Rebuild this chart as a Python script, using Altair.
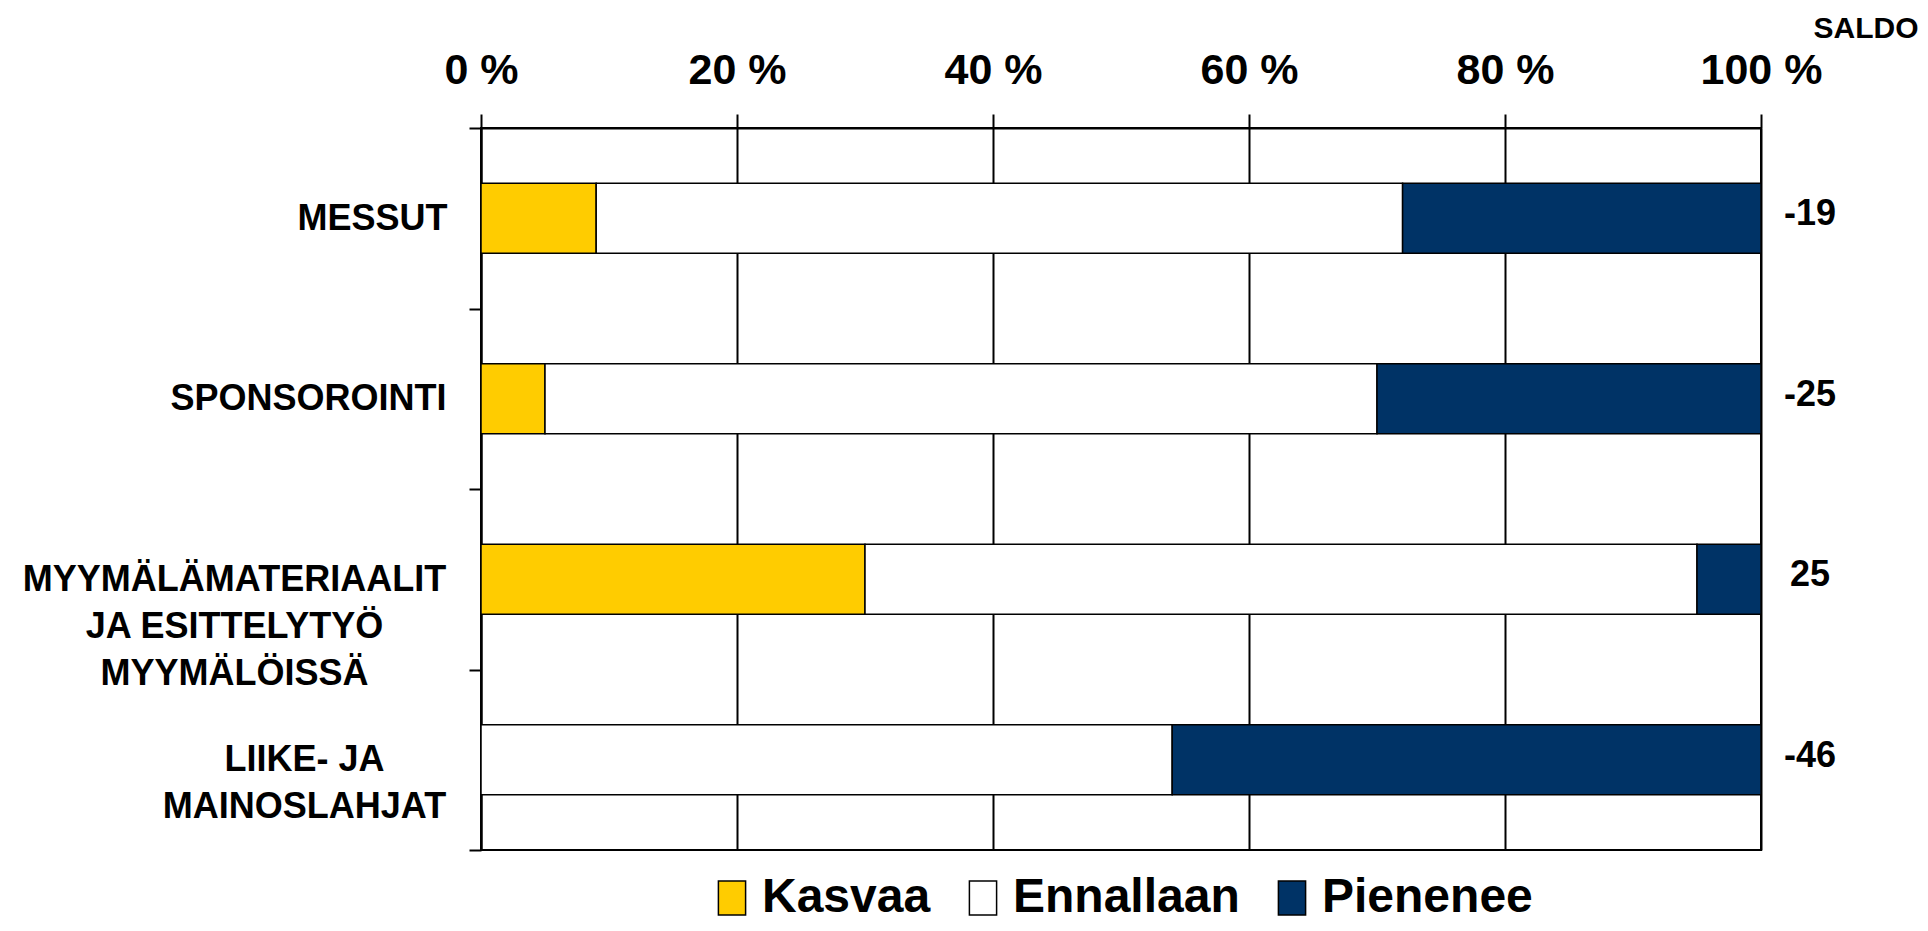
import altair as alt
import pandas as pd

# ---- data ----
categories = [
    "MESSUT",
    "SPONSOROINTI",
    "MYYMÄLÄMATERIAALIT|JA ESITTELYTYÖ|MYYMÄLÖISSÄ",
    "LIIKE- JA|MAINOSLAHJAT",
]
kasvaa = [9, 5, 30, 0]
ennallaan = [63, 65, 65, 54]
pienenee = [28, 30, 5, 46]
saldo = ["-19", "-25", "25", "-46"]
series = ["Kasvaa", "Ennallaan", "Pienenee"]
colors = ["#FFCC00", "#FFFFFF", "#003366"]
x_ticks = [0, 20, 40, 60, 80, 100]

# style: per-label distance so multi-line labels are centred but block right-aligned
label_pad = [97, 161, 235, 165]

FONT = "Liberation Sans"

rows = []
for i, c in enumerate(categories):
    for j, (s, v) in enumerate(zip(series, [kasvaa[i], ennallaan[i], pienenee[i]])):
        rows.append({"cat": c, "series": s, "value": v, "k": j})
df = pd.DataFrame(rows)

saldo_df = pd.DataFrame({"cat": categories, "saldo": saldo})
head_df = pd.DataFrame({"t": ["SALDO"]})

pad_cond = {
    "condition": [
        {"test": f"datum.value === '{c}'", "value": p}
        for c, p in zip(categories, label_pad)
    ],
    "value": 150,
}

y_enc = alt.Y(
    "cat:N",
    sort=categories,
    scale=alt.Scale(paddingInner=0, paddingOuter=0),
    axis=alt.Axis(
        title=None,
        tickBand="extent",
        tickSize=12,
        tickColor="black",
        tickWidth=2,
        domainColor="black",
        domainWidth=2,
        labelFont=FONT,
        labelFontWeight="bold",
        labelFontSize=36,
        labelColor="black",
        labelAlign="center",
        labelBaseline="middle",
        labelLineHeight=47,
        labelPadding=pad_cond,
        labelExpr="split(datum.label, '|')",
        labelLimit=0,
        labelOverlap=False,
        grid=False,
    ),
)

bars = alt.Chart(df).mark_bar(size=70, stroke="black", strokeWidth=1.5).encode(
    x=alt.X(
        "value:Q",
        stack="zero",
        scale=alt.Scale(domain=[0, 100], nice=False),
        axis=alt.Axis(
            orient="top",
            title=None,
            values=x_ticks,
            labelExpr="datum.value + ' %'",
            labelFont=FONT,
            labelFontWeight="bold",
            labelFontSize=43,
            labelColor="black",
            labelPadding=22,
            labelFlush=False,
            labelOverlap=False,
            tickSize=14,
            tickColor="black",
            tickWidth=2,
            domainColor="black",
            domainWidth=2,
            grid=True,
            gridColor="black",
            gridWidth=2,
            gridOpacity=1,
        ),
    ),
    y=y_enc,
    color=alt.Color(
        "series:N",
        scale=alt.Scale(domain=series, range=colors),
        legend=alt.Legend(
            title=None,
            orient="none",
            legendX=227,
            legendY=746,
            direction="horizontal",
            symbolType="M-0.8,-1L0.8,-1L0.8,1L-0.8,1Z",
            symbolSize=1156,
            symbolStrokeColor="black",
            symbolStrokeWidth=1.5,
            symbolOpacity=1,
            labelFont=FONT,
            labelFontSize=48,
            labelFontWeight="bold",
            labelColor="black",
            labelOffset=6,
            labelLimit=0,
            columnPadding=28,
            padding=0,
        ),
    ),
    order=alt.Order("k:Q"),
)

saldo_text = alt.Chart(saldo_df).mark_text(
    font=FONT, fontSize=36, fontWeight="bold", color="black",
    align="center", baseline="middle", dy=-4,
).encode(
    y=alt.Y("cat:N", sort=categories),
    x=alt.value(1329),
    text="saldo:N",
)

header = alt.Chart(head_df).mark_text(
    font=FONT, fontSize=30, fontWeight="bold", color="black",
    align="center", baseline="middle",
).encode(
    x=alt.value(1385),
    y=alt.value(-99),
    text="t:N",
)

chart = alt.layer(bars, saldo_text, header).properties(
    width=1280,
    height=722,
    padding={"left": 473, "top": 120, "right": 159, "bottom": 73},
    autosize=alt.AutoSizeParams(type="none"),
).configure_view(stroke="black", strokeWidth=2)

chart.save("out.html", embed_options={"renderer": "svg", "actions": False})
